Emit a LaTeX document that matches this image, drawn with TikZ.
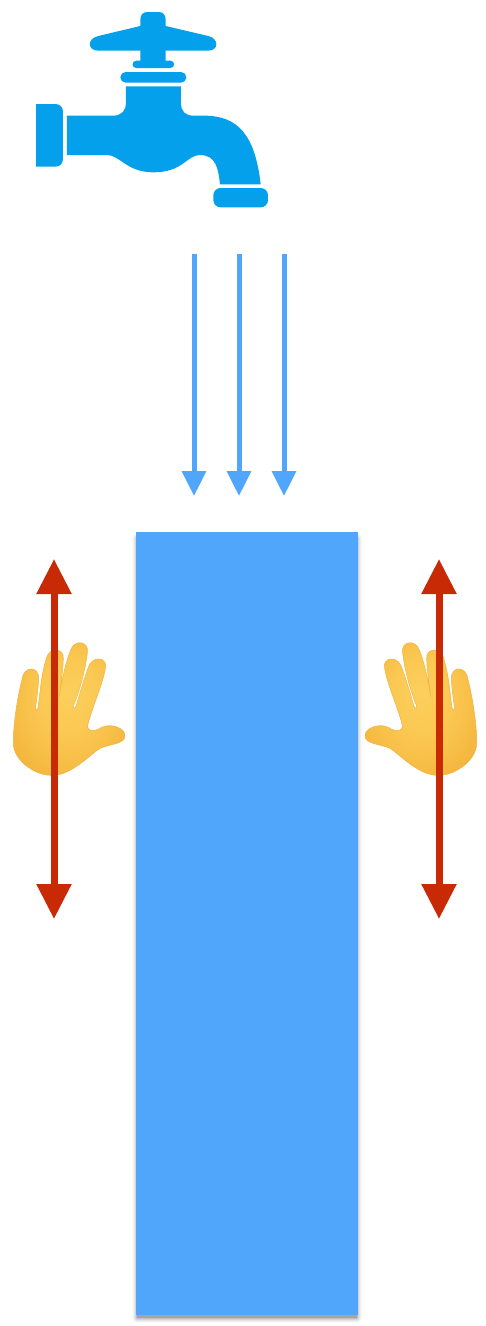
\documentclass[tikz,border=0pt]{standalone}
\usetikzlibrary{arrows.meta}
\definecolor{tapblue}{HTML}{04A0EB}
\definecolor{flowblue}{HTML}{50A6FB}
\definecolor{pushred}{HTML}{C92A06}
\definecolor{handedge}{HTML}{EFB445}
\pgfdeclareradialshading{handglow}{\pgfpoint{0bp}{6bp}}{
  rgb(0bp)=(0.99,0.81,0.36);
  rgb(12bp)=(0.985,0.79,0.33);
  rgb(22bp)=(0.97,0.75,0.28);
  rgb(32bp)=(0.95,0.70,0.23);
  rgb(50bp)=(0.93,0.65,0.18)}
\tikzset{
  tapshape/.style={fill=tapblue,draw=none},
  flow/.style={draw=flowblue,line width=5pt,-{Triangle[length=25pt,width=23.5pt,color=flowblue]}},
  push/.style={draw=pushred,line width=7pt,{Triangle[length=35pt,width=33.5pt,color=pushred]}-{Triangle[length=35pt,width=33.5pt,color=pushred]}},
  handshape/.style={shading=handglow,draw=handedge,line width=0.5pt,line join=round},
}
\newcommand{\handoutline}{
  (40,360) .. controls (40,320) and (50,240) .. (66,178)
  .. controls (70,138) and (118,135) .. (116,178)
  .. controls (114,210) and (110,240) .. (106,266)
  .. controls (108,272) and (112,272) .. (114,264)
  .. controls (120,220) and (124,160) .. (140,112)
  .. controls (148,82) and (194,82) .. (190,118)
  .. controls (188,160) and (182,195) .. (177,232)
  .. controls (186,180) and (196,130) .. (212,90)
  .. controls (222,58) and (268,62) .. (262,98)
  .. controls (256,150) and (240,210) .. (220,258)
  .. controls (220,266) and (226,266) .. (228,258)
  .. controls (240,220) and (252,175) .. (268,135)
  .. controls (282,106) and (324,113) .. (316,145)
  .. controls (308,195) and (276,262) .. (262,320)
  .. controls (268,338) and (285,334) .. (305,322)
  .. controls (335,308) and (378,325) .. (375,350)
  .. controls (372,372) and (330,372) .. (300,385)
  .. controls (270,405) and (240,440) .. (190,460)
  .. controls (150,475) and (105,462) .. (70,430)
  .. controls (50,410) and (38,390) .. (40,360) -- cycle
}
\begin{document}
\begin{tikzpicture}[x=1pt,y=-1pt]
\useasboundingbox (0,0) rectangle (486,1326);
% faucet
\begin{scope}[shift={(20,0)},scale=1/3]
  \fill[tapshape] (361,60) .. controls (361,45) and (368,36) .. (382,36) -- (416,36)
    .. controls (430,36) and (437,45) .. (437,60) -- (437,78) -- (565,108)
    .. controls (598,116) and (596,152) .. (565,152) -- (437,152) -- (437,182) -- (451,182)
    .. controls (466,182) and (466,204) .. (451,204) -- (349,204)
    .. controls (334,204) and (334,182) .. (349,182) -- (361,182) -- (361,152) -- (235,152)
    .. controls (202,152) and (200,116) .. (235,108) -- (361,78) -- cycle;
  \fill[tapshape,rounded corners=5.3pt] (301,216) rectangle (499,248);
  \fill[tapshape] (318,259) -- (483,259) -- (483,310)
    .. controls (483,335) and (497,347) .. (520,347) -- (560,347)
    .. controls (650,350) and (705,400) .. (722,553) -- (600,553)
    .. controls (595,510) and (590,465) .. (540,465)
    .. controls (500,465) and (490,517) .. (400,517)
    .. controls (320,517) and (300,465) .. (260,465)
    -- (141,465) -- (141,347) -- (280,347)
    .. controls (305,347) and (318,330) .. (318,310) -- cycle;
  \fill[tapshape] (48,312) -- (105,312) .. controls (120,312) and (129,321) .. (129,336)
    -- (129,476) .. controls (129,491) and (120,500) .. (105,500) -- (48,500) -- cycle;
  \fill[tapshape,rounded corners=7.3pt] (580,564) rectangle (744,622);
\end{scope}
% flow arrows
\foreach \n/\x in {a/194,b/239,c/284}{
  \coordinate (flow\n s) at (\x,254);
  \coordinate (flow\n e) at (\x,496);
  \draw[flow] (flow\n s) -- (flow\n e);
}
% column with soft shadow
\foreach \g/\o in {5/0.02,4/0.03,3/0.05,2/0.07,1/0.10,0/0.14}{
  \fill[black,opacity=\o,rounded corners=\g pt] (137-\g,538-\g) rectangle (357+\g,1318+\g);
}
\fill[flowblue] (136,532) rectangle (358,1315);
% hands
\begin{scope}[shift={(0,620)},scale=1/3]
  \path[handshape] \handoutline;
\end{scope}
\begin{scope}[shift={(490,620)},xscale=-1/3,yscale=1/3]
  \path[handshape] \handoutline;
\end{scope}
% red arrows
\coordinate (lt) at (54,559); \coordinate (lb) at (54,919);
\coordinate (rt) at (439,559); \coordinate (rb) at (439,919);
\draw[push] (lt) -- (lb);
\draw[push] (rt) -- (rb);
\end{tikzpicture}
\end{document}
